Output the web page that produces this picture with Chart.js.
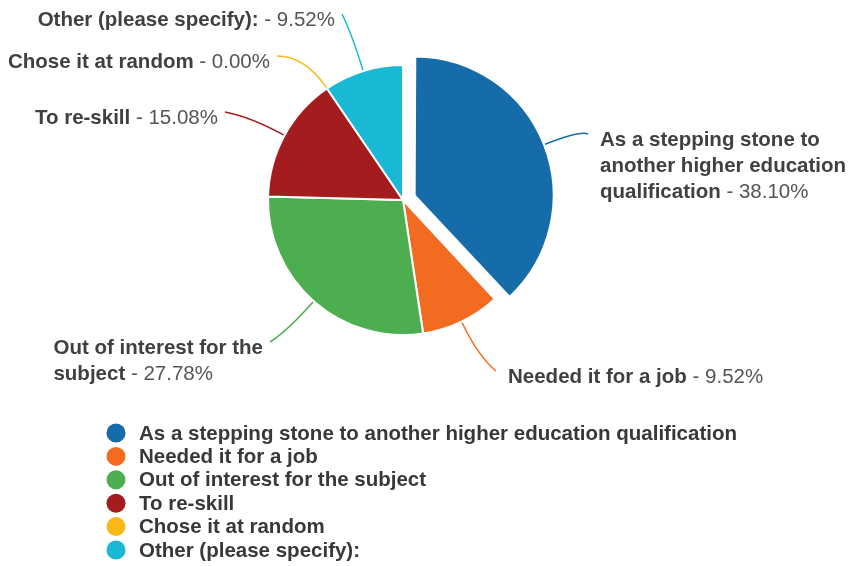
<!DOCTYPE html>
<html>
<head>
<meta charset="utf-8">
<script src="https://cdn.jsdelivr.net/npm/chart.js@4"></script>
<style>
  html, body { margin: 0; padding: 0; background: #fff; }
  canvas { display: block; }
</style>
</head>
<body>
<canvas id="reasonChart" width="850" height="566"></canvas>
<script>
// answers and share of respondents (%)
const categories = [
    "As a stepping stone to another higher education qualification",
    "Needed it for a job",
    "Out of interest for the subject",
    "To re-skill",
    "Chose it at random",
    "Other (please specify):"
];
const percents = [38.10, 9.52, 27.78, 15.08, 0.00, 9.52];
const sliceColors = ["#166ca8", "#f26b21", "#4cae50", "#a51c1e", "#fbb917", "#19b8d4"];

// where each callout text block sits (layout only)
const calloutPos = [
    { x: 600, y: 140, align: "left", wrap: 260 },
    { x: 508, y: 377, align: "left", wrap: 999 },
    { x: 263, y: 348, align: "right", wrap: 220 },
    { x: 218, y: 118, align: "right", wrap: 999 },
    { x: 270, y: 62, align: "right", wrap: 999 },
    { x: 335, y: 20, align: "right", wrap: 999 }
];

const FONT = '"Liberation Sans", Arial, sans-serif';
const BOLD = "bold 20.5px " + FONT;
const NORMAL = "20.5px " + FONT;
const LINE_H = 26;

// word wrap the bold label, percent goes on the last line
function wrapLabel(ctx, text, maxW) {
    ctx.font = BOLD;
    let lines = [];
    let cur = "";
    text.split(" ").forEach(w => {
        let test = cur ? cur + " " + w : w;
        if (cur && ctx.measureText(test).width > maxW) {
            lines.push(cur);
            cur = w;
        } else {
            cur = test;
        }
    });
    lines.push(cur);
    return lines;
}

// edge point of a slice, following Chart.js' own offset maths
function slicePoint(el) {
    const mid = (el.startAngle + el.endAngle) / 2;
    const circ = el.endAngle - el.startAngle;
    const off = (el.options.offset || 0) / 4;
    const fix = 1 - Math.sin(Math.min(Math.PI, circ));
    const r = el.outerRadius + 1 + off + off * fix;
    return { x: el.x + Math.cos(mid) * r, y: el.y + Math.sin(mid) * r, dx: Math.cos(mid), dy: Math.sin(mid) };
}

const calloutPlugin = {
    id: "callouts",
    afterDraw(chart) {
        const ctx = chart.ctx;
        const meta = chart.getDatasetMeta(0);
        ctx.save();
        ctx.textBaseline = "middle";

        meta.data.forEach((el, i) => {
            const pos = calloutPos[i];
            const p = slicePoint(el);
            const lines = wrapLabel(ctx, categories[i], pos.wrap);
            const suffix = " - " + percents[i].toFixed(2) + "%";

            // block width (widest line, last one includes the percent)
            let blockW = 0;
            lines.forEach((ln, k) => {
                ctx.font = BOLD;
                let w = ctx.measureText(ln).width;
                if (k === lines.length - 1) {
                    ctx.font = NORMAL;
                    w += ctx.measureText(suffix).width;
                }
                blockW = Math.max(blockW, w);
            });
            const left = pos.align === "left" ? pos.x : pos.x - blockW;

            // leader line
            const ex = pos.align === "left" ? pos.x - 12 : pos.x + 7;
            const ey = pos.y - 6;
            ctx.strokeStyle = sliceColors[i];
            ctx.lineWidth = 1.5;
            ctx.beginPath();
            ctx.moveTo(p.x, p.y);
            ctx.quadraticCurveTo(p.x + p.dx * 38, p.y + p.dy * 38, ex, ey);
            ctx.stroke();

            // text
            ctx.textAlign = "left";
            lines.forEach((ln, k) => {
                const y = pos.y + k * LINE_H;
                ctx.font = BOLD;
                ctx.fillStyle = "#404040";
                ctx.fillText(ln, left, y);
                if (k === lines.length - 1) {
                    const w = ctx.measureText(ln).width;
                    ctx.font = NORMAL;
                    ctx.fillStyle = "#555555";
                    ctx.fillText(suffix, left + w, y);
                }
            });
        });

        // legend list under the pie
        categories.forEach((name, i) => {
            const y = 433 + i * 23.4;
            ctx.fillStyle = sliceColors[i];
            ctx.beginPath();
            ctx.arc(116, y, 9.5, 0, Math.PI * 2);
            ctx.fill();
            ctx.font = BOLD;
            ctx.fillStyle = "#383838";
            ctx.textAlign = "left";
            ctx.fillText(name, 139, y + 1);
        });
        ctx.restore();
    }
};

new Chart(document.getElementById("reasonChart"), {
    type: "pie",
    data: {
        labels: categories,
        datasets: [{
            data: percents,
            backgroundColor: sliceColors,
            borderColor: "#ffffff",
            borderWidth: 2,
            offset: [50, 0, 0, 0, 0, 0]
        }]
    },
    options: {
        responsive: false,
        animation: false,
        devicePixelRatio: 1,
        radius: 135,
        layout: { padding: { left: 0, right: 44, top: 0, bottom: 166 } },
        plugins: {
            legend: { display: false },
            tooltip: { enabled: false }
        }
    },
    plugins: [calloutPlugin]
});
</script>
</body>
</html>
